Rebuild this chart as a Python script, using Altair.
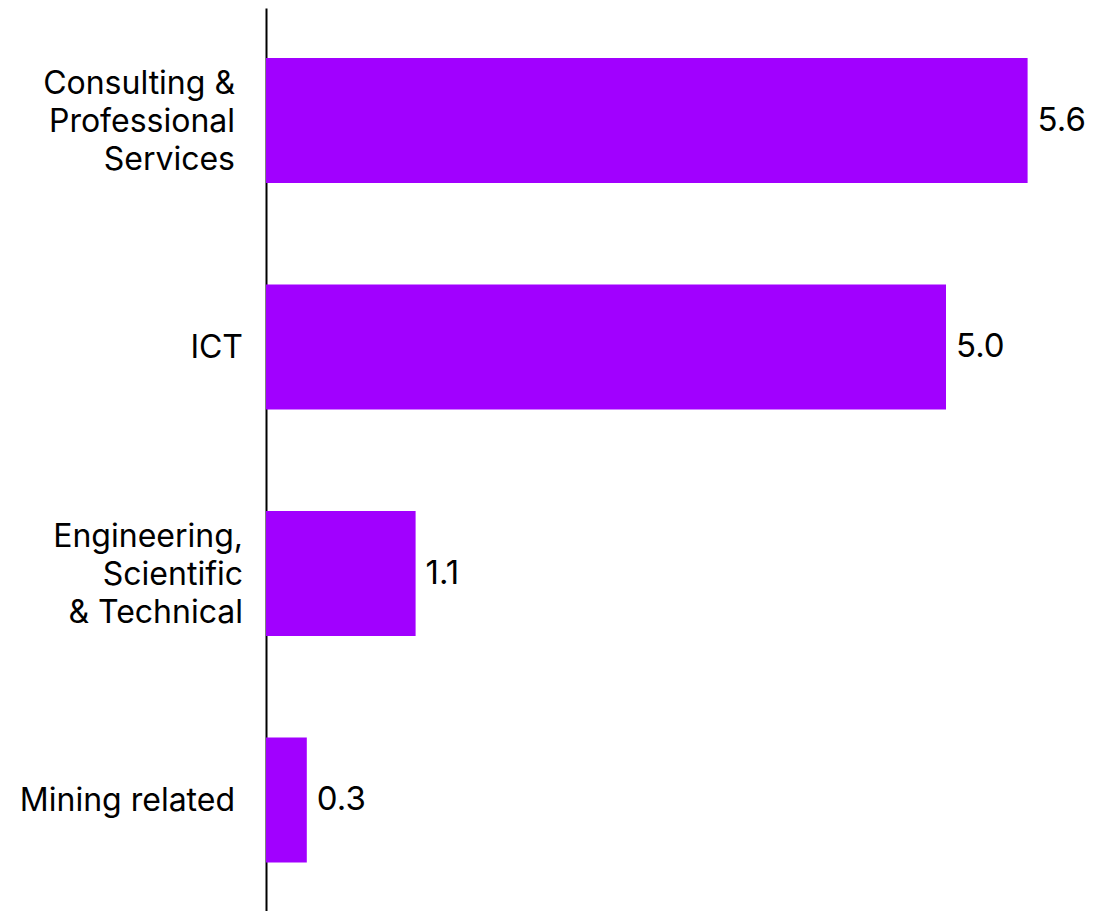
import altair as alt
import pandas as pd

categories = ["Consulting & Professional Services", "ICT", "Engineering, Scientific & Technical", "Mining related"]
label_lines = ["Consulting &\nProfessional\nServices", "ICT", "Engineering,\nScientific\n& Technical", "Mining related"]
line_count = [3, 1, 3, 1]
trailing_space = [True, False, False, True]
values = [5.6, 5.0, 1.1, 0.3]
value_text = ["5.6", "5.0", "1.1", "0.3"]

df = pd.DataFrame({"category": categories, "label": label_lines, "lines": line_count,
                   "trail": trailing_space, "value": values, "vtext": value_text})

FONT = "Inter"
PURPLE = "#A100FF"

yenc = alt.Y("category:N", sort=categories,
             scale=alt.Scale(paddingInner=0.448, paddingOuter=0.2174, align=0.508),
             axis=alt.Axis(labels=False, ticks=False, title=None, domain=True,
                           domainColor="black", domainWidth=2, grid=False))
xenc = alt.X("value:Q", scale=alt.Scale(domain=[0, 6]), axis=None)
ysimple = alt.Y("category:N", sort=categories)

bars = alt.Chart(df).mark_bar(color=PURPLE).encode(x=xenc, y=yenc)

vals = alt.Chart(df).mark_text(align="left", baseline="middle", dx=10, font=FONT,
                               fontSize=33, color="black").encode(
    x=xenc, y=ysimple, text="vtext:N")

base = alt.Chart(df)
text_kw = dict(align="right", baseline="middle", font=FONT, fontSize=32,
               lineBreak="\n", lineHeight=38, color="black")

cats_layers = []
for nl in (1, 3):
    for tr in (False, True):
        cats_layers.append(
            base.transform_filter(
                (alt.datum.lines == nl) & (alt.datum.trail == tr)
            ).mark_text(dy=-38 * (nl - 1) / 2 + 1, **text_kw).encode(
                x=alt.value(-31 if tr else -23), y=ysimple, text="label:N")
        )

chart = alt.layer(bars, vals, *cats_layers).properties(
    width=816, height=903,
    padding={"left": 258, "top": 0, "right": 9, "bottom": 0},
    autosize=alt.AutoSizeParams(type="none"),
).configure_view(stroke=None)

chart.save("out.html", embed_options={"renderer": "svg", "actions": False})
